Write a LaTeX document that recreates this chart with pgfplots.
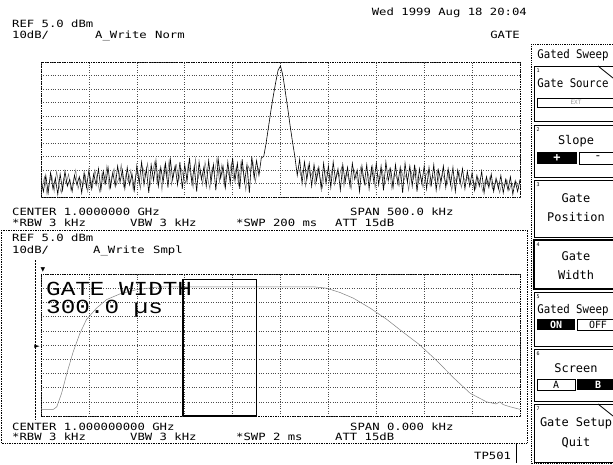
\documentclass[border=0pt]{standalone}
\usepackage{pgfplots}
\pgfplotsset{compat=1.18}
\usepackage{fontspec}
\setmainfont{DejaVu Sans Mono}
\newfontfamily\bigfont{Liberation Mono}
\newfontfamily\sym{DejaVu Sans}

\newcommand\T[1]{\scalebox{1.23}[1]{\fontsize{10}{11}\selectfont #1}}
\newcommand\mn{\fontsize{12}{13}\selectfont}
\newcommand\W[1]{\scalebox{0.9}[1]{\mn #1}}

\pgfplotsset{scrn/.style={
    scale only axis, width=479bp,
    xmin=0, xmax=10, ymin=0, ymax=10,
    xtick={0,...,10}, ytick={0,...,10},
    xticklabels={}, yticklabels={},
    major tick length=0pt,
    grid=major,
    grid style={black!70, dotted, line width=0.45bp},
    axis line style={black, densely dotted, line width=0.7bp},
    anchor=north west}}

\begin{document}
\begin{tikzpicture}
\path[use as bounding box] (0,0) rectangle (613bp,-465bp);

% upper screen: gated spectrum
\begin{axis}[scrn, at={(41bp,-62bp)}, height=135bp]
% second sweep samples (grey)
\addplot[black!55, line width=0.5bp] coordinates {
(0.025,0.8) (0.075,1.5) (0.125,0.2) (0.175,1.1) (0.225,1.6) (0.275,0.4) (0.325,1.9) (0.375,0.9) (0.425,0.3) (0.475,1.4)
(0.525,1.0) (0.575,1.7) (0.625,0.5) (0.675,1.2) (0.725,2.0) (0.775,0.6) (0.825,1.3) (0.875,0.8) (0.925,1.6) (0.975,0.4)
(1.025,1.5) (1.075,0.7) (1.125,2.0) (1.175,1.2) (1.225,0.4) (1.275,1.8) (1.325,1.0) (1.375,2.3) (1.425,0.6) (1.475,1.5)
(1.525,2.1) (1.575,0.9) (1.625,1.4) (1.675,2.4) (1.725,0.8) (1.775,1.7) (1.825,1.1) (1.875,2.0) (1.925,0.5) (1.975,1.6)
(2.025,1.9) (2.075,0.6) (2.125,2.2) (2.175,1.5) (2.225,2.5) (2.275,0.8) (2.325,1.8) (2.375,2.6) (2.425,1.0) (2.475,2.0)
(2.525,0.5) (2.575,2.3) (2.625,1.4) (2.675,2.7) (2.725,0.9) (2.775,1.9) (2.825,2.4) (2.875,1.2) (2.925,2.1) (2.975,1.5)
(3.025,1.0) (3.075,2.5) (3.125,1.6) (3.175,0.7) (3.225,2.8) (3.275,1.3) (3.325,2.0) (3.375,0.9) (3.425,2.6) (3.475,1.5)
(3.525,0.6) (3.575,2.2) (3.625,1.8) (3.675,2.9) (3.725,1.1) (3.775,2.4) (3.825,0.8) (3.875,2.0) (3.925,1.6) (3.975,2.5)
(4.025,1.3) (4.075,2.2) (4.125,0.9) (4.175,2.6) (4.225,1.8) (4.275,0.5) (4.325,2.3) (4.375,1.9) (4.425,2.6) (4.475,1.1)
(4.525,2.2) (4.575,1.8)
};
\addplot[black!55, line width=0.5bp] coordinates {
(5.375,2.2) (5.425,1.6) (5.475,2.0) (5.525,0.8) (5.575,2.3) (5.625,1.5) (5.675,1.9) (5.725,0.9) (5.775,2.1) (5.825,1.4)
(5.875,0.7) (5.925,2.0) (5.975,1.7)
(6.025,1.2) (6.075,2.0) (6.125,0.9) (6.175,1.8) (6.225,1.5) (6.275,2.2) (6.325,0.8) (6.375,1.9) (6.425,1.3) (6.475,0.6)
(6.525,2.1) (6.575,1.6) (6.625,1.0) (6.675,2.2) (6.725,1.4) (6.775,0.9) (6.825,1.8) (6.875,1.2) (6.925,2.3) (6.975,0.7)
(7.025,1.7) (7.075,1.3) (7.125,2.0) (7.175,0.9) (7.225,1.5) (7.275,2.1) (7.325,0.6) (7.375,1.8) (7.425,1.4) (7.475,0.8)
(7.525,2.0) (7.575,1.2) (7.625,1.7) (7.675,0.5) (7.725,1.9) (7.775,1.3) (7.825,2.1) (7.875,1.0) (7.925,1.6) (7.975,0.7)
(8.025,1.5) (8.075,1.9) (8.125,0.8) (8.175,1.6) (8.225,1.2) (8.275,2.0) (8.325,0.6) (8.375,1.7) (8.425,1.3) (8.475,0.9)
(8.525,1.8) (8.575,0.5) (8.625,1.5) (8.675,1.1) (8.725,1.9) (8.775,0.7) (8.825,1.4) (8.875,1.2) (8.925,1.6) (8.975,0.9)
(9.025,1.2) (9.075,0.6) (9.125,1.4) (9.175,1.1) (9.225,0.4) (9.275,1.3) (9.325,0.9) (9.375,1.5) (9.425,0.6) (9.475,1.0)
(9.525,1.2) (9.575,0.3) (9.625,1.1) (9.675,0.8) (9.725,1.3) (9.775,0.5) (9.825,1.0) (9.875,0.7) (9.925,1.1) (9.975,0.6)
};
% main trace
\addplot[black, line width=0.6bp] coordinates {
(0.00,1.2) (0.05,0.4) (0.10,1.6) (0.15,0.3) (0.20,1.8) (0.25,0.6) (0.30,1.4) (0.35,0.2) (0.40,1.7) (0.45,0.5)
(0.50,1.9) (0.55,0.8) (0.60,1.3) (0.65,0.4) (0.70,1.6) (0.75,0.9) (0.80,1.5) (0.85,0.3) (0.90,1.8) (0.95,0.7)
(1.00,2.0) (1.05,0.6) (1.10,1.7) (1.15,0.9) (1.20,2.1) (1.25,0.5) (1.30,1.9) (1.35,1.0) (1.40,2.2) (1.45,0.7)
(1.50,1.8) (1.55,0.8) (1.60,2.3) (1.65,1.1) (1.70,2.0) (1.75,0.6) (1.80,2.2) (1.85,0.9) (1.90,1.7) (1.95,0.5)
(2.00,2.3) (2.05,1.0) (2.10,2.6) (2.15,0.9) (2.20,2.1) (2.25,0.3) (2.30,2.4) (2.35,1.2) (2.40,2.7) (2.45,0.8)
(2.50,2.2) (2.55,1.1) (2.60,2.5) (2.65,0.7) (2.70,2.8) (2.75,1.3) (2.80,2.3) (2.85,0.9) (2.90,2.6) (2.95,0.6)
(3.00,2.4) (3.05,1.2) (3.10,2.9) (3.15,1.0) (3.20,2.3) (3.25,0.4) (3.30,2.6) (3.35,1.3) (3.40,2.2) (3.45,0.8)
(3.50,2.7) (3.55,1.1) (3.60,2.4) (3.65,0.5) (3.70,2.8) (3.75,1.4) (3.80,2.3) (3.85,0.7) (3.90,2.6) (3.95,1.0)
(4.00,2.9) (4.05,1.2) (4.10,2.5) (4.15,0.6) (4.20,2.8) (4.25,1.1) (4.30,2.4) (4.35,0.3) (4.40,3.0) (4.45,1.4)
(4.50,2.7) (4.55,1.6) (4.60,2.9) (4.65,3.0) (4.70,4.0) (4.75,5.2) (4.80,6.4) (4.85,7.5) (4.90,8.5) (4.95,9.4)
(5.00,9.7) (5.05,9.0) (5.10,7.8) (5.15,6.6) (5.20,5.3) (5.25,4.1) (5.30,3.0) (5.35,1.6) (5.40,2.8) (5.45,1.0)
(5.50,2.6) (5.55,1.3) (5.60,2.5) (5.65,0.8) (5.70,2.4) (5.75,1.2) (5.80,2.2) (5.85,0.6) (5.90,2.5) (5.95,1.0)
(6.00,2.3) (6.05,0.7) (6.10,2.6) (6.15,1.2) (6.20,2.1) (6.25,0.5) (6.30,2.4) (6.35,1.1) (6.40,2.2) (6.45,0.8)
(6.50,2.5) (6.55,1.3) (6.60,2.0) (6.65,0.4) (6.70,2.3) (6.75,1.0) (6.80,2.4) (6.85,0.6) (6.90,2.2) (6.95,1.1)
(7.00,2.5) (7.05,0.9) (7.10,2.3) (7.15,0.5) (7.20,2.6) (7.25,1.2) (7.30,2.1) (7.35,0.7) (7.40,2.4) (7.45,1.0)
(7.50,2.2) (7.55,0.3) (7.60,2.5) (7.65,1.1) (7.70,2.3) (7.75,0.8) (7.80,2.4) (7.85,0.4) (7.90,2.1) (7.95,1.0)
(8.00,2.3) (8.05,0.6) (8.10,2.2) (8.15,0.9) (8.20,2.4) (8.25,0.5) (8.30,2.0) (8.35,1.1) (8.40,2.3) (8.45,0.7)
(8.50,2.1) (8.55,0.9) (8.60,2.2) (8.65,0.4) (8.70,2.0) (8.75,1.0) (8.80,2.1) (8.85,0.6) (8.90,1.9) (8.95,0.8)
(9.00,1.8) (9.05,0.5) (9.10,1.6) (9.15,0.8) (9.20,1.9) (9.25,0.3) (9.30,1.5) (9.35,0.7) (9.40,1.7) (9.45,0.4)
(9.50,1.4) (9.55,0.6) (9.60,1.6) (9.65,0.3) (9.70,1.3) (9.75,0.5) (9.80,1.5) (9.85,0.2) (9.90,1.2) (9.95,0.4)
(10.00,1.3)
};
\end{axis}

% lower screen: zero span, gate
\begin{axis}[scrn, at={(41bp,-274bp)}, height=142bp]
\addplot[black!50, line width=0.5bp] coordinates {
(0.00,0.47) (0.26,0.47) (0.33,0.65) (0.43,1.6) (0.54,3.0) (0.67,4.5) (0.81,5.8) (0.95,6.8)
(1.16,7.6) (1.37,8.2) (1.65,8.6) (2.00,8.9) (2.48,9.1) (2.97,9.1) (5.69,9.1) (5.96,9.0)
(6.24,8.7) (6.52,8.3) (6.87,7.6) (7.22,6.8) (7.56,5.9) (7.91,5.0) (8.26,3.9) (8.61,2.7)
(8.96,1.6) (9.30,1.0) (9.50,0.85) (9.58,1.0) (9.65,0.8) (9.79,0.65) (10.00,0.47)
};
\addplot[black, line width=1.6bp] coordinates {(2.96,0) (2.96,9.6) (4.50,9.6) (4.50,0) (2.96,0)};
\end{axis}

\begin{scope}[x=1bp, y=-1bp]
\tikzset{every node/.style={inner sep=0pt}}
% header
\node[anchor=base east] at (527,15) {\T{Wed 1999 Aug 18 20:04}};
\node[anchor=base west] at (12,27) {\T{REF 5.0 dBm}};
\node[anchor=base west] at (12,38) {\T{10dB/}};
\node[anchor=base west] at (95,38) {\T{A\_Write}};
\node[anchor=base west] at (155,38) {\T{Norm}};
\node[anchor=base east] at (520,38) {\T{GATE}};
% upper footer
\node[anchor=base west] at (12,215) {\T{CENTER 1.0000000 GHz}};
\node[anchor=base west] at (350,215) {\T{SPAN 500.0 kHz}};
\node[anchor=base west] at (12,226) {\T{*RBW 3 kHz}};
\node[anchor=base west] at (130,226) {\T{VBW 3 kHz}};
\node[anchor=base west] at (236,226) {\T{*SWP 200 ms}};
\node[anchor=base west] at (335,226) {\T{ATT 15dB}};
% lower frame
\draw[black, line width=0.7bp, densely dotted] (1,230) rectangle (527,443);
\draw[black, line width=0.5bp, densely dotted] (35,260) -- (35,420);
\node[anchor=base west] at (12,241) {\T{REF 5.0 dBm}};
\node[anchor=base west] at (12,253) {\T{10dB/}};
\node[anchor=base west] at (93,253) {\T{A\_Write}};
\node[anchor=base west] at (153,253) {\T{Smpl}};
\node at (43,270) {\sym\fontsize{6}{6}\selectfont ▼};
\node at (37,347) {\sym\fontsize{7}{7}\selectfont ►};
\node[anchor=base west] at (46,295) {\bigfont\fontsize{20}{20}\selectfont\scalebox{1.22}[1]{GATE WIDTH}};
\node[anchor=base west] at (46,313) {\bigfont\fontsize{20}{20}\selectfont\scalebox{1.22}[1]{300.0 µs}};
\node[anchor=base west] at (12,430) {\T{CENTER 1.000000000 GHz}};
\node[anchor=base west] at (350,430) {\T{SPAN 0.000 kHz}};
\node[anchor=base west] at (12,440) {\T{*RBW 3 kHz}};
\node[anchor=base west] at (130,440) {\T{VBW 3 kHz}};
\node[anchor=base west] at (236,440) {\T{*SWP 2 ms}};
\node[anchor=base west] at (335,440) {\T{ATT 15dB}};
\node[anchor=base west] at (474,459) {\T{TP501}};
\draw[black, line width=0.7bp] (516,443) -- (516,463);
% soft-key menu
\draw[black, line width=0.8bp, densely dotted] (531,44) rectangle (620,463);
\node at (573,55) {\W{Gated Sweep}};
\draw[black, line width=0.8bp] (534,66) rectangle (620,121);
\draw[black, line width=0.8bp] (598,66) -- (613,78);
\node at (573,83) {\W{Gate Source}};
\draw[black, line width=0.8bp] (537,98) rectangle (620,107);
\node at (576,102.5) {\fontsize{6}{6}\selectfont\color{black!40}EXT};
\draw[black, line width=0.8bp] (534,125) rectangle (620,177);
\node at (576,141) {\mn Slope};
\fill[black] (537,152) rectangle (577,164);
\node[white] at (557,158) {\mn\bfseries +};
\draw[black, line width=0.8bp] (579,152) rectangle (620,164);
\node at (598,158) {\mn -};
\draw[black, line width=0.8bp] (534,180) rectangle (620,237);
\node at (576,198) {\mn Gate};
\node at (576,217) {\mn Position};
\draw[black, line width=1.6bp] (534,240) rectangle (620,289);
\node at (576,256) {\mn Gate};
\node at (576,275) {\mn Width};
\draw[black, line width=0.8bp] (534,292) rectangle (620,346);
\node at (573,310) {\W{Gated Sweep}};
\fill[black] (537,319) rectangle (575,330);
\node[white] at (556,324.5) {\fontsize{10}{10}\selectfont\bfseries ON};
\draw[black, line width=0.8bp] (577,319) rectangle (620,330);
\node at (598,324.5) {\fontsize{10}{10}\selectfont OFF};
\draw[black, line width=0.8bp] (534,349) rectangle (620,401);
\node at (576,368) {\mn Screen};
\draw[black, line width=0.8bp] (537,379) rectangle (575,390);
\node at (556,384.5) {\fontsize{10}{10}\selectfont A};
\fill[black] (577,379) rectangle (620,390);
\node[white] at (598,384.5) {\fontsize{10}{10}\selectfont\bfseries B};
\draw[black, line width=0.8bp] (534,404) rectangle (620,462);
\draw[black, line width=0.8bp] (598,404) -- (613,416);
\node at (576,423) {\mn Gate Setup};
\node at (576,443) {\mn Quit};
\foreach \n/\yy in {1/71,2/130,3/185,4/245,5/297,6/354,7/409}
  \node at (538,\yy) {\fontsize{5}{5}\selectfont\n};
\end{scope}
\end{tikzpicture}
\end{document}
